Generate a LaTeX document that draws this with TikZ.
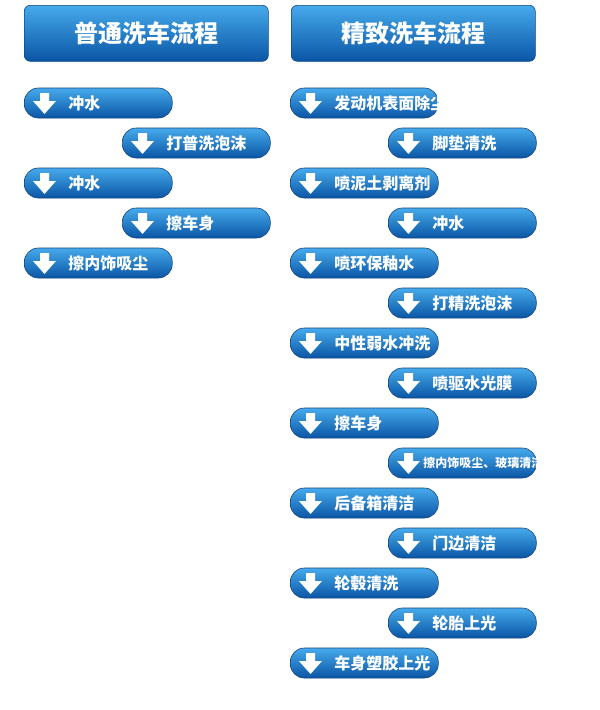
\documentclass[tikz,border=0pt]{standalone}
\usepackage{fontspec}
\newfontfamily\cjk{Noto Sans CJK SC}
\definecolor{pilltop}{RGB}{70,170,235}
\definecolor{pillbot}{RGB}{10,85,165}
\definecolor{pillrim}{RGB}{20,70,130}
\tikzset{
  header/.style={rounded corners=6pt,top color=pilltop,bottom color=pillbot,
    draw=pillrim,line width=0.6pt,minimum width=244pt,minimum height=56pt,
    text=white,font=\cjk\bfseries\fontsize{24}{24}\selectfont,anchor=north west},
  pill/.style={rounded corners=14pt,top color=pilltop,bottom color=pillbot,
    draw=pillrim,line width=0.6pt,minimum height=30pt,minimum width=148pt,text width=148pt,
    align=left,inner xsep=0pt,text=white,font=\cjk\bfseries\fontsize{16}{16}\selectfont,anchor=west},
}
% white down arrow at the left end of a pill
\newcommand{\downarrowat}[1]{%
  \fill[white] ([xshift=16pt,yshift=10pt]#1.west) -- ++(9,0) -- ++(0,8) -- ++(7,0)
    -- ++(-11.5,13) -- ++(-11.5,-13) -- ++(7,0) -- cycle;}
\begin{document}
\begin{tikzpicture}[x=1pt,y=-1pt]
\path[use as bounding box,fill=white] (0,0) rectangle (600,710);

\node[header] (hl) at (24,5) {普通洗车流程};
\node[header] (hr) at (291,5) {精致洗车流程};

% left column
\foreach \t [count=\i] in {冲水,打普洗泡沫,冲水,擦车身,擦内饰吸尘}{
  \pgfmathsetmacro{\xx}{isodd(\i) ? 24 : 122}
  \node[pill] (l\i) at (\xx,63+40*\i) {\hspace*{44pt}\t};
  \downarrowat{l\i}
}
% right column
\foreach \t [count=\i] in {发动机表面除尘,脚垫清洗,喷泥土剥离剂,冲水,喷环保釉水,打精洗泡沫,
  中性弱水冲洗,喷驱水光膜,擦车身,{\hspace*{-9pt}\fontsize{12}{12}\selectfont 擦内饰吸尘、玻璃清洁},后备箱清洁,门边清洁,轮毂清洗,轮胎上光,车身塑胶上光}{
  \pgfmathsetmacro{\xx}{isodd(\i) ? 290 : 388}
  \node[pill] (r\i) at (\xx,63+40*\i) {\hspace*{44pt}\t};
  \downarrowat{r\i}
}
\end{tikzpicture}
\end{document}
